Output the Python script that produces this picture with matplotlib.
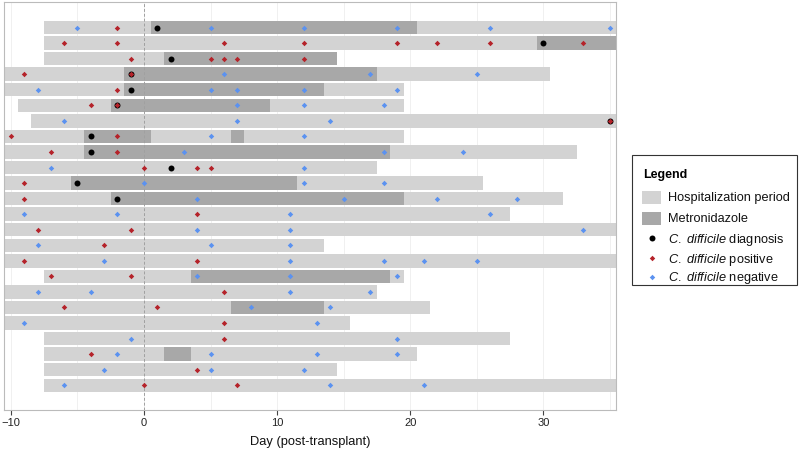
import matplotlib
matplotlib.use("Agg")
import matplotlib.pyplot as plt
from matplotlib.patches import Rectangle

plt.rcParams['font.family'] = ['Liberation Sans', 'DejaVu Sans']
plt.rcParams['mathtext.fontset'] = 'custom'
plt.rcParams['mathtext.rm'] = 'Liberation Sans'
plt.rcParams['mathtext.it'] = 'Liberation Sans:italic'

# ---- data (row 0 = top) ----
hosp_start = [-7.5, -7.5, -7.5, -10.5, -10.5, -9.5, -8.5, -10.5, -10.5, -10.5, -10.5, -10.5,
              -10.5, -10.5, -10.5, -10.5, -7.5, -10.5, -10.5, -10.5, -7.5, -7.5, -7.5, -7.5]
hosp_end = [35.5, 35.5, 14.5, 30.5, 19.5, 19.5, 35.5, 19.5, 32.5, 17.5, 25.5, 31.5,
            27.5, 35.5, 13.5, 35.5, 19.5, 17.5, 21.5, 15.5, 27.5, 20.5, 14.5, 35.5]

metro_row = [0, 1, 2, 3, 4, 5, 7, 7, 8, 10, 11, 16, 18, 21]
metro_start = [0.5, 29.5, 1.5, -1.5, -1.5, -2.5, -4.5, 6.5, -4.5, -5.5, -2.5, 3.5, 6.5, 1.5]
metro_end = [20.5, 35.5, 14.5, 17.5, 13.5, 9.5, 0.5, 7.5, 18.5, 11.5, 19.5, 18.5, 13.5, 3.5]

diag_row = [0, 1, 2, 3, 4, 5, 6, 7, 8, 9, 10, 11]
diag_day = [1, 30, 2, -1, -1, -2, 35, -4, -4, 2, -5, -2]

positive_days = [
    [-2], [-6, -2, 6, 12, 19, 22, 26, 33], [-1, 5, 6, 7, 12], [-9, -1], [-2], [-4, -2],
    [35], [-10, -2], [-7, -2], [0, 4, 5], [-9], [-9], [4], [-8, -1], [-3], [-9, 4],
    [-7, -1], [6], [-6, 1], [6], [6], [-4], [4], [0, 7],
]
negative_days = [
    [-5, 5, 12, 19, 26, 35], [], [], [6, 17, 25], [-8, 5, 7, 12, 19], [7, 12, 18],
    [-6, 7, 14], [5, 12], [3, 18, 24], [-7, 12], [0, 12, 18], [4, 15, 22, 28],
    [-9, -2, 11, 26], [4, 11, 33], [-8, 5, 11], [-3, 11, 18, 21, 25], [4, 11, 19],
    [-8, -4, 11, 17], [8, 14], [-9, 13], [-1, 19], [-2, 5, 13, 19], [-3, 5, 12], [-6, 14, 21],
]

x_ticks = [-10, 0, 10, 20, 30]
x_tick_labels = ['\u221210', '0', '10', '20', '30']

legend_title = 'Legend'
legend_labels = [
    'Hospitalization period',
    'Metronidazole',
    r'$\mathit{C.\ difficile}$ diagnosis',
    r'$\mathit{C.\ difficile}$ positive',
    r'$\mathit{C.\ difficile}$ negative',
]

LIGHT = '#D3D3D3'
DARK = '#A8A8A8'
RED = '#B5232A'
BLUE = '#5B92F0'

fig = plt.figure(figsize=(8, 4.54), dpi=100)
ax = fig.add_axes([4 / 800, 1 - 410 / 454, 612 / 800, 408 / 454])

rows = list(range(len(hosp_start)))
ax.barh(rows, [e - s for s, e in zip(hosp_start, hosp_end)], left=hosp_start,
        height=0.86, color=LIGHT, zorder=2)
ax.barh(metro_row, [e - s for s, e in zip(metro_start, metro_end)], left=metro_start,
        height=0.86, color=DARK, zorder=3)

ax.axvline(0, color='#A0A0A0', lw=0.7, ls=(0, (3, 2)), zorder=4)

ax.plot(diag_day, diag_row, 'o', color='black', ms=4.3, mec='black', mew=0, zorder=5, ls='none')
px = [d for r, ds in enumerate(positive_days) for d in ds]
py = [r for r, ds in enumerate(positive_days) for d in ds]
ax.plot(px, py, 'D', color=RED, ms=2.8, mew=0, zorder=6, ls='none')
nx = [d for r, ds in enumerate(negative_days) for d in ds]
ny = [r for r, ds in enumerate(negative_days) for d in ds]
ax.plot(nx, ny, 'D', color=BLUE, ms=2.8, mew=0, zorder=6, ls='none')

ax.set_xlim(-10.52, 35.46)
ax.set_ylim(24.59, -1.64)
ax.set_xticks(x_ticks)
ax.set_xticks([-5, 5, 15, 25, 35], minor=True)
ax.set_yticks([])
ax.grid(True, which='both', axis='x', color='#EEEEEE', lw=0.6, zorder=0)
ax.tick_params(axis='x', which='major', direction='out', length=3.5, width=0.8,
               color='#444444', labelsize=8, labelcolor='#222222', pad=2)
ax.tick_params(axis='x', which='minor', length=0)
ax.set_xticklabels(x_tick_labels)
for s in ax.spines.values():
    s.set_color('#BBBBBB')
    s.set_linewidth(0.8)
ax.set_xlabel('Day (post-transplant)', fontsize=9.3, labelpad=6, color='#111111')

# ---- legend drawn in a pixel-coordinate overlay ----
lg = fig.add_axes([0, 0, 1, 1], facecolor='none')
lg.set_xlim(0, 800)
lg.set_ylim(454, 0)
lg.axis('off')
lg.add_patch(Rectangle((632, 155), 165, 130, fill=False, edgecolor='#333333', lw=0.8))
lg.text(643, 174 + 4.3, legend_title, fontsize=9, fontweight='bold', va='baseline', ha='left')
entry_y = [197, 218, 238, 258, 277]
lg.add_patch(Rectangle((642, entry_y[0] - 6.5), 19, 13, facecolor=LIGHT, edgecolor='none'))
lg.add_patch(Rectangle((642, entry_y[1] - 6.5), 19, 13, facecolor=DARK, edgecolor='none'))
lg.plot([651.5], [entry_y[2]], 'o', color='black', ms=4.3, mew=0)
lg.plot([651.5], [entry_y[3]], 'D', color=RED, ms=2.8, mew=0)
lg.plot([651.5], [entry_y[4]], 'D', color=BLUE, ms=2.8, mew=0)
for yy, lab in zip(entry_y, legend_labels):
    lg.text(668, yy + 4.5, lab, fontsize=9.2, va='baseline', ha='left', color='#111111')

fig.savefig('out.png', dpi=100)
